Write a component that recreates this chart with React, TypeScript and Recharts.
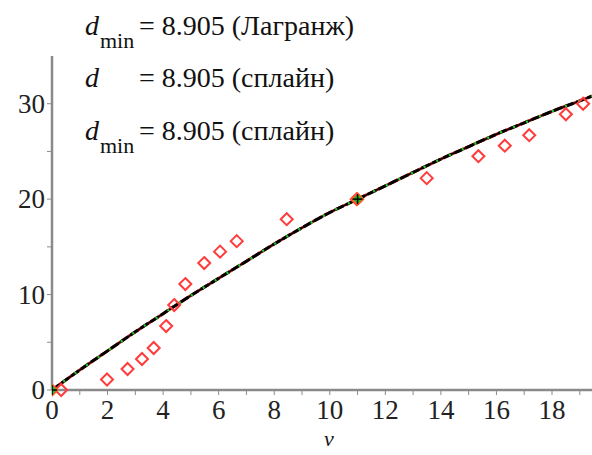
import React from "react";
import { ComposedChart, Line, Scatter, XAxis, YAxis } from "recharts";

// Interpolating curve (Lagrange / spline, visually coincident)
const curveV = [0, 1, 2, 3, 4, 5, 6, 7, 8, 9, 10, 11, 12, 13, 14, 15, 16, 17, 18, 19, 19.44];
const lagrangeD = [0, 2.1, 4.1, 6.1, 8.0, 9.9, 11.7, 13.5, 15.3, 17.0, 18.6, 20.0, 21.4, 22.8, 24.2, 25.5, 26.8, 28.0, 29.2, 30.3, 30.8];
const splineD = [0, 2.1, 4.1, 6.1, 8.0, 9.9, 11.7, 13.5, 15.3, 17.0, 18.6, 20.0, 21.4, 22.8, 24.2, 25.5, 26.8, 28.0, 29.2, 30.3, 30.8];

// Measured points (red diamonds)
const sampleV = [0.33, 1.98, 2.72, 3.24, 3.66, 4.11, 4.4, 4.8, 5.48, 6.05, 6.65, 8.45, 10.97, 13.49, 15.35, 16.3, 17.18, 18.5, 19.12];
const sampleD = [0, 1.1, 2.2, 3.25, 4.4, 6.7, 8.9, 11.1, 13.3, 14.5, 15.6, 17.9, 20.0, 22.2, 24.5, 25.6, 26.7, 28.9, 30.0];

// Interpolation nodes
const nodeV = [0, 11];
const nodeD = [0, 20];

const xTicks = [0, 1, 2, 3, 4, 5, 6, 7, 8, 9, 10, 11, 12, 13, 14, 15, 16, 17, 18, 19];
const yTicks = [0, 5, 10, 15, 20, 25, 30];

const lagrangeData = curveV.map((v, i) => ({ v, d: lagrangeD[i] }));
const splineData = curveV.map((v, i) => ({ v, d: splineD[i] }));
const sampleData = sampleV.map((v, i) => ({ v, d: sampleD[i] }));
const nodeData = nodeV.map((v, i) => ({ v, d: nodeD[i] }));

const FONT = '"Liberation Serif", Tinos, "Times New Roman", "DejaVu Serif", serif';
const AXIS = "#8a8a8a";
const serifStyle = { fontFamily: FONT };

const Diamond = (props: any) => {
  const { cx, cy } = props;
  const r = 6;
  return (
    <path
      d={`M${cx},${cy - r}L${cx + r},${cy}L${cx},${cy + r}L${cx - r},${cy}Z`}
      fill="none"
      stroke="#ff3b3b"
      strokeWidth={2}
    />
  );
};

const Node = (props: any) => {
  const { cx, cy } = props;
  const r = 6;
  return (
    <g>
      <path
        d={`M${cx},${cy - r}L${cx + r},${cy}L${cx},${cy + r}L${cx - r},${cy}Z`}
        fill="#22bb22"
        stroke="#ff5a2a"
        strokeWidth={1.5}
      />
      <line x1={cx - 5} y1={cy} x2={cx + 5} y2={cy} stroke="#000" strokeWidth={1.5} />
      <line x1={cx} y1={cy - 5} x2={cx} y2={cy + 5} stroke="#000" strokeWidth={1.5} />
    </g>
  );
};

const XTick = (props: any) => {
  const { x, y, payload } = props;
  if (payload.value % 2 !== 0) return <g />;
  return (
    <text x={x} y={y} dy={22} textAnchor="middle" fill="#222" style={serifStyle} fontSize={27}>
      {payload.value}
    </text>
  );
};

const YTick = (props: any) => {
  const { x, y, payload } = props;
  if (payload.value % 10 !== 0) return <g />;
  return (
    <text x={x} y={y} dy={9} textAnchor="end" fill="#222" style={serifStyle} fontSize={27}>
      {payload.value}
    </text>
  );
};

export default function App() {
  return (
    <div style={{ position: "absolute", left: 0, top: 0, width: 592, height: 455, background: "#fff", fontFamily: FONT }}>
      <ComposedChart
        width={592}
        height={455}
        margin={{ top: 56, right: 0, bottom: 25, left: 0 }}
      >
        <XAxis
          dataKey="v"
          type="number"
          domain={[0, 19.44]}
          ticks={xTicks}
          interval={0}
          allowDataOverflow
          height={40}
          tick={<XTick />}
          tickSize={5}
          stroke={AXIS}
          axisLine={{ stroke: AXIS, strokeWidth: 2.5 }}
          tickLine={{ stroke: AXIS, strokeWidth: 1 }}
        />
        <YAxis
          dataKey="d"
          type="number"
          domain={[0, 35]}
          ticks={yTicks}
          interval={0}
          width={52}
          tick={<YTick />}
          tickSize={5}
          stroke={AXIS}
          axisLine={{ stroke: AXIS, strokeWidth: 2.5 }}
          tickLine={{ stroke: AXIS, strokeWidth: 1 }}
        />
        <Line data={lagrangeData} dataKey="d" type="monotone" stroke="#d02020" strokeWidth={3} dot={false} isAnimationActive={false} />
        <Line data={splineData} dataKey="d" type="monotone" stroke="#000" strokeWidth={1.5} dot={false} isAnimationActive={false} />
        <Line data={splineData} dataKey="d" type="monotone" stroke="#000" strokeWidth={3} strokeDasharray="9 3" dot={false} isAnimationActive={false} />
        <Line data={lagrangeData} dataKey="d" type="monotone" stroke="#22cc22" strokeWidth={2.5} strokeDasharray="2 12" dot={false} isAnimationActive={false} />
        <Scatter data={sampleData} dataKey="d" shape={<Diamond />} isAnimationActive={false} />
        <Scatter data={nodeData} dataKey="d" shape={<Node />} isAnimationActive={false} />
      </ComposedChart>
      <svg
        width={592}
        height={455}
        style={{ position: "absolute", left: 0, top: 0, pointerEvents: "none", fontFamily: FONT }}
      >
        <g fill="#111">
          <text x={85} y={35} fontSize={28} fontStyle="italic" style={serifStyle}>d</text>
          <text x={100} y={48} fontSize={22} style={serifStyle}>min</text>
          <text x={139} y={35} fontSize={28} style={serifStyle}>= 8.905 (Лагранж)</text>

          <text x={85} y={87} fontSize={28} fontStyle="italic" style={serifStyle}>d</text>
          <text x={139} y={87} fontSize={28} style={serifStyle}>= 8.905 (сплайн)</text>

          <text x={85} y={140} fontSize={28} fontStyle="italic" style={serifStyle}>d</text>
          <text x={100} y={153} fontSize={22} style={serifStyle}>min</text>
          <text x={139} y={140} fontSize={28} style={serifStyle}>= 8.905 (сплайн)</text>

          <text x={329} y={446} fontSize={22} fontStyle="italic" textAnchor="middle" style={serifStyle}>v</text>
        </g>
      </svg>
    </div>
  );
}
